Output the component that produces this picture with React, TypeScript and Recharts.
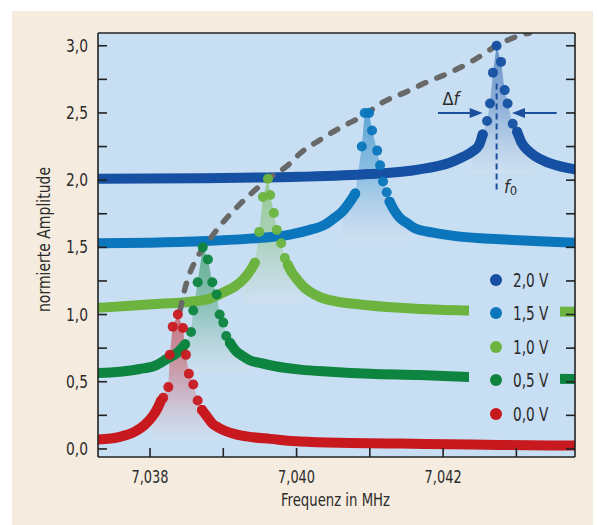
import React from "react";
import {
  ComposedChart,
  Line,
  Area,
  Scatter,
  XAxis,
  YAxis,
  CartesianGrid,
  Legend,
  ReferenceLine,
  ReferenceDot,
} from "recharts";

const FONT = "'Liberation Sans Narrow', 'DejaVu Sans Condensed', 'Open Sans', sans-serif";
const PLOT_BG = "#c8dff3";
const ANNO = "#1d4f9f";

type Pt = { f: number; a: number };
const toPts = (rows: number[][]): Pt[] => rows.map(([f, a]) => ({ f, a }));

// frequency in MHz, normalised amplitude
// 2,0 V
const blue20Left = toPts([
  [7.03729, 2.01], [7.03868, 2.015], [7.04005, 2.025], [7.041, 2.045], [7.04155, 2.07],
  [7.04189, 2.1], [7.04209, 2.13], [7.04226, 2.17], [7.04239, 2.21], [7.04249, 2.26], [7.04254, 2.34],
]);
const blue20Peak = toPts([
  [7.04254, 2.34], [7.0426, 2.44], [7.04264, 2.57], [7.04268, 2.8], [7.04273, 3.0],
  [7.04279, 2.88], [7.04284, 2.67], [7.04288, 2.57], [7.04295, 2.42], [7.04301, 2.36],
]);
const blue20Right = toPts([
  [7.04301, 2.36], [7.04307, 2.28], [7.04316, 2.22], [7.04325, 2.18], [7.04339, 2.14],
  [7.04355, 2.11], [7.0438, 2.08],
]);

// 1,5 V
const blue15Left = toPts([
  [7.03729, 1.53], [7.038, 1.535], [7.03868, 1.545], [7.03936, 1.565], [7.03991, 1.595],
  [7.04018, 1.63], [7.04039, 1.67], [7.04052, 1.72], [7.04063, 1.77], [7.04073, 1.84], [7.0408, 1.9],
]);
const blue15Peak = toPts([
  [7.0408, 1.9], [7.04089, 2.25], [7.04093, 2.5], [7.04099, 2.5], [7.04103, 2.37],
  [7.0411, 2.22], [7.04114, 2.11], [7.04118, 1.99], [7.04123, 1.91], [7.04127, 1.84],
]);
const blue15Right = toPts([
  [7.04127, 1.84], [7.04134, 1.77], [7.04141, 1.72], [7.04151, 1.68], [7.04162, 1.64],
  [7.04186, 1.61], [7.04223, 1.58], [7.04277, 1.56], [7.04332, 1.545], [7.0438, 1.535],
]);

// 1,0 V
const green10Left = toPts([
  [7.03729, 1.05], [7.03773, 1.065], [7.03814, 1.08], [7.03855, 1.095], [7.03882, 1.12],
  [7.03902, 1.17], [7.03916, 1.21], [7.03927, 1.26], [7.03936, 1.32], [7.03943, 1.385],
]);
const green10Peak = toPts([
  [7.03943, 1.385], [7.03949, 1.615], [7.03954, 1.875], [7.03961, 2.01], [7.03964, 1.89],
  [7.03969, 1.755], [7.03973, 1.63], [7.03979, 1.53], [7.03984, 1.42], [7.03988, 1.37],
]);
const green10Right = toPts([
  [7.03988, 1.37], [7.03994, 1.31], [7.04001, 1.26], [7.04009, 1.21], [7.04018, 1.17],
  [7.04032, 1.13], [7.04052, 1.1], [7.04086, 1.075], [7.04141, 1.05], [7.04196, 1.035],
  [7.04237, 1.03], [7.04305, 1.025], [7.0438, 1.02],
]);

// 0,5 V
const green05Left = toPts([
  [7.03729, 0.565], [7.03759, 0.575], [7.03786, 0.595], [7.03807, 0.62], [7.03823, 0.67],
  [7.03838, 0.72], [7.03848, 0.78],
]);
const green05Peak = toPts([
  [7.03856, 0.87], [7.03859, 1.03], [7.03865, 1.24], [7.03872, 1.5], [7.03879, 1.41],
  [7.03885, 1.24], [7.03891, 1.15], [7.03895, 1.0], [7.039, 0.94], [7.03904, 0.84], [7.03909, 0.79],
]);
const green05Right = toPts([
  [7.03909, 0.79], [7.03917, 0.73], [7.03927, 0.69], [7.03936, 0.66], [7.0395, 0.64],
  [7.03971, 0.615], [7.04005, 0.59], [7.04046, 0.575], [7.041, 0.56], [7.04168, 0.55],
  [7.04235, 0.535], [7.04305, 0.525], [7.0438, 0.52],
]);

// 0,0 V
const red00Left = toPts([
  [7.03729, 0.07], [7.03759, 0.09], [7.0378, 0.13], [7.03793, 0.18], [7.03803, 0.24],
  [7.0381, 0.3], [7.03815, 0.36],
]);
const red00Peak = toPts([
  [7.03818, 0.38], [7.03825, 0.46], [7.03827, 0.7], [7.03831, 0.91], [7.03838, 1.0],
  [7.03845, 0.9], [7.03849, 0.7], [7.03853, 0.56], [7.03859, 0.48], [7.03865, 0.36], [7.03871, 0.29],
]);
const red00Right = toPts([
  [7.03871, 0.29], [7.03878, 0.24], [7.03885, 0.19], [7.03893, 0.16], [7.03902, 0.135],
  [7.03916, 0.11], [7.03936, 0.09], [7.03964, 0.075], [7.04005, 0.055], [7.04073, 0.045],
  [7.04141, 0.04], [7.04209, 0.035], [7.04277, 0.03], [7.0438, 0.025],
]);

// dashed curve through the resonance peaks
const peakTrend = toPts([
  [7.03841, 1.03], [7.0385, 1.24], [7.03861, 1.39], [7.03879, 1.54], [7.03897, 1.67],
  [7.03917, 1.79], [7.03938, 1.9], [7.03964, 2.02], [7.03988, 2.11], [7.04005, 2.2],
  [7.04032, 2.3], [7.04063, 2.4], [7.04091, 2.48], [7.04118, 2.58], [7.04151, 2.66],
  [7.04178, 2.73], [7.04209, 2.8], [7.04241, 2.89], [7.04273, 3.0], [7.04301, 3.07], [7.04318, 3.095],
]);

const xTicks = [7.038, 7.039, 7.04, 7.041, 7.042, 7.043];
const xLabelled = [7.038, 7.04, 7.042];
const yTicks = [0, 0.25, 0.5, 0.75, 1, 1.25, 1.5, 1.75, 2, 2.25, 2.5, 2.75, 3];

const series = [
  { name: "2,0 V", color: "#1550a2", base: 2.05, left: blue20Left, peak: blue20Peak, right: blue20Right },
  { name: "1,5 V", color: "#0b76bc", base: 1.55, left: blue15Left, peak: blue15Peak, right: blue15Right },
  { name: "1,0 V", color: "#6cb43f", base: 1.08, left: green10Left, peak: green10Peak, right: green10Right },
  { name: "0,5 V", color: "#0d843f", base: 0.57, left: green05Left, peak: green05Peak, right: green05Right },
  { name: "0,0 V", color: "#c8191f", base: 0.07, left: red00Left, peak: red00Peak, right: red00Right },
];

const comma = (v: number, d: number) => v.toFixed(d).replace(".", ",");
const isMajorY = (v: number) => Math.abs(v * 2 - Math.round(v * 2)) < 1e-6;

const textStyle = { fontFamily: FONT, fontSize: 18, fill: "#2b2b2b" };

const LeftTick = (p: any) => (
  <g>
    <line x1={p.x} x2={p.x + 9} y1={p.y} y2={p.y} stroke="#222" strokeWidth={1.6} />
    {isMajorY(p.payload.value) && (
      <text
        x={p.x - 32}
        y={p.y + 6}
        textLength={22}
        lengthAdjust="spacingAndGlyphs"
        {...textStyle}
      >
        {comma(p.payload.value, 1)}
      </text>
    )}
  </g>
);
const RightTick = (p: any) => (
  <line x1={p.x} x2={p.x - 9} y1={p.y} y2={p.y} stroke="#222" strokeWidth={1.6} />
);
const BottomTick = (p: any) => (
  <g>
    <line x1={p.x} x2={p.x} y1={p.y} y2={p.y - 9} stroke="#222" strokeWidth={1.6} />
    {xLabelled.some((v) => Math.abs(v - p.payload.value) < 1e-7) && (
      <text
        x={p.x - 18.5}
        y={p.y + 26}
        textLength={37}
        lengthAdjust="spacingAndGlyphs"
        {...textStyle}
      >
        {comma(p.payload.value, 3)}
      </text>
    )}
  </g>
);
const TopTick = (p: any) => (
  <line x1={p.x} x2={p.x} y1={p.y} y2={p.y + 9} stroke="#222" strokeWidth={1.6} />
);

const Arrow = (p: any) => {
  const { x1, y1, x2, y2 } = p;
  const dir = Math.sign(x2 - x1);
  return (
    <g>
      <line x1={x1} y1={y1} x2={x2 - dir * 10} y2={y2} stroke={ANNO} strokeWidth={2} />
      <polygon points={`${x2},${y2} ${x2 - dir * 13},${y2 - 5} ${x2 - dir * 13},${y2 + 5}`} fill={ANNO} />
    </g>
  );
};

const LegendBox = () => (
  <div style={{ background: PLOT_BG, width: 91, height: 168, paddingTop: 1, boxSizing: "border-box" }}>
    {series.map((s) => (
      <div key={s.name} style={{ display: "flex", alignItems: "center", height: 33.5 }}>
        <span
          style={{ width: 12, height: 12, borderRadius: 6, background: s.color, marginLeft: 21, marginRight: 11 }}
        />
        <span
          style={{
            fontFamily: FONT,
            fontSize: 19,
            color: "#2a2a2a",
            display: "inline-block",
            transform: "scaleX(0.8)",
            transformOrigin: "left center",
            whiteSpace: "nowrap",
          }}
        >
          {s.name}
        </span>
      </div>
    ))}
  </div>
);

export default function App() {
  return (
    <div style={{ position: "absolute", left: 0, top: 0, width: 598, height: 525, background: "#fff" }}>
      <div style={{ position: "absolute", left: 12, top: 11, width: 581, height: 514, background: "#f5ecdf" }} />
      <ComposedChart
        width={598}
        height={525}
        margin={{ top: 23, right: 13, bottom: 28, left: 38 }}
        style={{ position: "absolute", left: 0, top: 0 }}
      >
        <defs>
          {series.map((s, i) => (
            <linearGradient key={s.name} id={`shade${i}`} x1="0" y1="0" x2="0" y2="1">
              <stop offset="0%" stopColor={s.color} stopOpacity={0.92} />
              <stop offset="50%" stopColor={s.color} stopOpacity={0.5} />
              <stop offset="100%" stopColor="#e4e2ea" stopOpacity={0.35} />
            </linearGradient>
          ))}
        </defs>
        <CartesianGrid fill={PLOT_BG} horizontal={false} vertical={false} />
        <XAxis
          dataKey="f"
          type="number"
          domain={[7.03729, 7.0438]}
          allowDataOverflow
          ticks={xTicks}
          interval={0}
          height={40}
          tickSize={0}
          tickMargin={0}
          tickLine={false}
          tick={BottomTick}
          axisLine={{ stroke: "#222", strokeWidth: 1.6 }}
          label={{
            content: () => (
              <text
                x={281}
                y={506}
                textLength={109}
                lengthAdjust="spacingAndGlyphs"
                style={{ fontFamily: FONT, fontSize: 18, fill: "#2b2b2b" }}
              >
                Frequenz in MHz
              </text>
            ),
          }}
        />
        <XAxis
          xAxisId="top"
          orientation="top"
          type="number"
          domain={[7.03729, 7.0438]}
          allowDataOverflow
          ticks={xTicks}
          interval={0}
          height={10}
          tickSize={0}
          tickMargin={0}
          tickLine={false}
          tick={TopTick}
          axisLine={{ stroke: "#222", strokeWidth: 1.6 }}
        />
        <YAxis
          dataKey="a"
          type="number"
          domain={[-0.06, 3.095]}
          allowDataOverflow
          ticks={yTicks}
          interval={0}
          width={60}
          tickSize={0}
          tickMargin={0}
          tickLine={false}
          tick={LeftTick}
          axisLine={{ stroke: "#222", strokeWidth: 1.6 }}
          label={{
            content: () => (
              <text
                x={-72}
                y={0}
                textLength={145}
                lengthAdjust="spacingAndGlyphs"
                transform="translate(50 240) rotate(-90)"
                style={{ fontFamily: FONT, fontSize: 18, fill: "#2b2b2b" }}
              >
                normierte Amplitude
              </text>
            ),
          }}
        />
        <YAxis
          yAxisId="right"
          orientation="right"
          type="number"
          domain={[-0.06, 3.095]}
          allowDataOverflow
          ticks={yTicks}
          interval={0}
          width={10}
          tickSize={0}
          tickMargin={0}
          tickLine={false}
          tick={RightTick}
          axisLine={{ stroke: "#222", strokeWidth: 1.6 }}
        />

        {series.flatMap((s, i) => [
          <Area
            key={`area${i}`}
            data={[...s.left.slice(-3), ...s.peak, ...s.right.slice(1, 4)]}
            dataKey="a"
            type="linear"
            baseValue={s.base}
            stroke="none"
            fill={`url(#shade${i})`}
            isAnimationActive={false}
          />,
          <Line
            key={`l${i}`}
            data={s.left}
            dataKey="a"
            type="monotone"
            stroke={s.color}
            strokeWidth={10}
            strokeLinecap="round"
            dot={false}
            isAnimationActive={false}
          />,
          <Line
            key={`r${i}`}
            data={s.right}
            dataKey="a"
            type="monotone"
            stroke={s.color}
            strokeWidth={10}
            strokeLinecap="round"
            dot={false}
            isAnimationActive={false}
          />,
          <Scatter
            key={`p${i}`}
            data={s.peak}
            fill={s.color}
            shape={(p: any) => <circle cx={p.cx} cy={p.cy} r={5} fill={s.color} fillOpacity={0.95} />}
            isAnimationActive={false}
          />,
        ])}

        <Line
          data={peakTrend}
          dataKey="a"
          type="monotone"
          stroke="#686868"
          strokeWidth={5.5}
          strokeDasharray="8 12"
          strokeLinecap="round"
          dot={false}
          isAnimationActive={false}
        />

        <ReferenceLine
          segment={[{ x: 7.04273, y: 2.72 }, { x: 7.04273, y: 1.905 }]}
          stroke={ANNO}
          strokeWidth={2}
          strokeDasharray="6 4"
        />
        <ReferenceLine segment={[{ x: 7.04193, y: 2.5 }, { x: 7.04254, y: 2.5 }]} shape={Arrow} />
        <ReferenceLine segment={[{ x: 7.04355, y: 2.5 }, { x: 7.04294, y: 2.5 }]} shape={Arrow} />
        <ReferenceDot
          x={7.04199}
          y={2.56}
          r={0}
          shape={(p: any) => (
            <text x={p.cx} y={p.cy} style={{ fontFamily: FONT, fontSize: 18, fill: "#2b2b2b" }}>
              Δ<tspan fontStyle="italic">f</tspan>
            </text>
          )}
        />
        <ReferenceDot
          x={7.04283}
          y={1.905}
          r={0}
          shape={(p: any) => (
            <text x={p.cx} y={p.cy} style={{ fontFamily: FONT, fontSize: 18, fill: "#2b2b2b" }}>
              <tspan fontStyle="italic">f</tspan>
              <tspan fontSize={13} dy={2}>0</tspan>
            </text>
          )}
        />

        <Legend
          layout="vertical"
          align="center"
          verticalAlign="middle"
          content={() => <LegendBox />}
          wrapperStyle={{ position: "absolute", left: 469, top: 262, width: 91, height: 168 }}
        />
      </ComposedChart>
    </div>
  );
}
